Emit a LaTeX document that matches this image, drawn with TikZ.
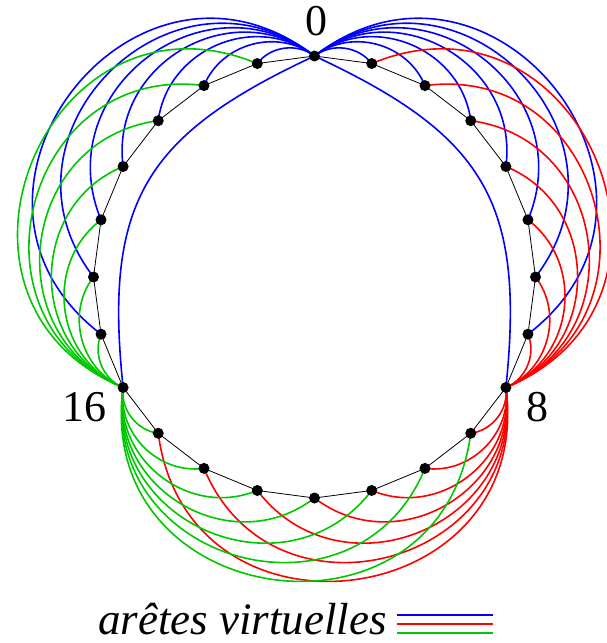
\documentclass[tikz,border=0pt]{standalone}
\usepackage{fontspec}
\setmainfont{Liberation Serif}
\definecolor{vgreen}{RGB}{0,200,0}
\begin{document}
\begin{tikzpicture}[x=1pt, y=1pt,
  vertex/.style={circle, fill=black, inner sep=0pt, minimum size=11pt},
  edge/.style={line width=0.8pt},
  virtual/.style={line width=1.6pt},
  lbl/.style={font=\fontsize{44}{46}\selectfont, inner sep=0pt}]
  \useasboundingbox (-314.5,-366) rectangle (291.5,277);
  % the 24 vertices of the cycle
  \foreach \i in {0,...,23}
    \coordinate (v\i) at ({90-15*\i}:221);
  % virtual edges from the hubs 0, 8 and 16
  \foreach \hub/\col in {0/blue, 8/red, 16/vgreen}
    \foreach \j in {1,...,7} {
      \pgfmathtruncatemacro\fwd{mod(\hub+\j,24)}
      \pgfmathtruncatemacro\bwd{mod(\hub-\j+24,24)}
      \pgfmathsetmacro\bend{37.5+7.5*\j}
      \pgfmathsetmacro\loose{0.83/(cos(\bend/2)*cos(\bend/2))}
      \draw[virtual, color=\col] (v\hub) to[bend left=\bend, looseness=\loose] (v\fwd);
      \draw[virtual, color=\col] (v\hub) to[bend right=\bend, looseness=\loose] (v\bwd);
    }
  \draw[virtual, blue] (v0) to[out=-25, in=84, looseness=1.25] (v8);
  \draw[virtual, blue] (v0) to[out=205, in=96, looseness=1.25] (v16);
  % cycle edges
  \foreach \i in {0,...,23} {
    \pgfmathtruncatemacro\k{mod(\i+1,24)}
    \draw[edge] (v\i) -- (v\k);
  }
  \foreach \i in {0,...,23}
    \node[vertex] (d\i) at (v\i) {};
  % labels
  \node[lbl] (l0) at ([xshift=2pt, yshift=35pt]v0) {0};
  \node[lbl] (l8) at ([xshift=32pt, yshift=-20pt]v8) {8};
  \node[lbl] (l16) at ([xshift=-39pt, yshift=-20pt]v16) {16};
  % legend
  \node[font=\fontsize{45}{48}\selectfont\itshape, inner sep=0pt, anchor=base west] (legend) at (-216.5,-357) {arêtes virtuelles};
  \draw[virtual, blue] ([xshift=10pt, yshift=19pt]legend.base east) -- ++(96,0);
  \draw[virtual, red] ([xshift=10pt, yshift=10pt]legend.base east) -- ++(96,0);
  \draw[virtual, vgreen] ([xshift=10pt, yshift=1pt]legend.base east) -- ++(96,0);
\end{tikzpicture}
\end{document}
